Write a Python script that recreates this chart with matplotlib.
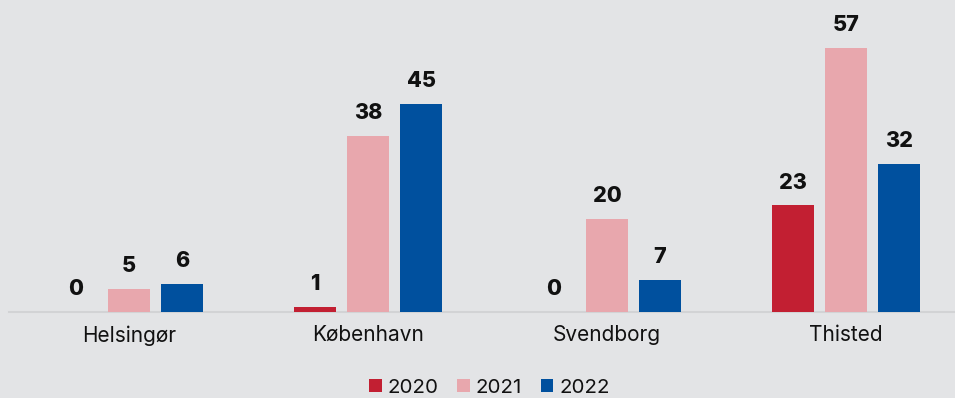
import numpy as np
import matplotlib
matplotlib.use("Agg")
import matplotlib.pyplot as plt

# Counts per town and year
towns = ["Helsingør", "København", "Svendborg", "Thisted"]
years = ["2020", "2021", "2022"]
values_2020 = [0, 1, 0, 23]
values_2021 = [5, 38, 20, 57]
values_2022 = [6, 45, 7, 32]

colors = ["#c21f32", "#e8a7ad", "#00509e"]
bg = "#e3e4e6"
text_color = "#111111"

plt.rcParams["font.family"] = ["Inter", "DejaVu Sans"]

W, H = 955, 398
fig = plt.figure(figsize=(W / 100, H / 100), dpi=100, facecolor=bg)

# axes geometry in pixels
left_px, base_px = 9.5, 312
ax = fig.add_axes([left_px / W, (H - base_px) / H, (W - left_px) / W, base_px / H])
ax.set_facecolor(bg)

step = 239.0
x = np.arange(len(towns))
bar_w = 42 / step
offset = 53 / step

series = [values_2020, values_2021, values_2022]
for i, (vals, col, yr) in enumerate(zip(series, colors, years)):
    pos = x + (i - 1) * offset
    bars = ax.bar(pos, vals, width=bar_w, color=col, label=yr, zorder=3)
    for b, v in zip(bars, vals):
        ax.annotate(str(v), (b.get_x() + b.get_width() / 2, v),
                    xytext=(0, 12.2), textcoords="offset points",
                    ha="center", va="baseline", fontsize=15.5,
                    fontweight="heavy", color=text_color)

px_per_unit = 264 / 57
ax.set_ylim(0, base_px / px_per_unit)
ax.set_xlim(-0.5, (W - left_px) / step - 0.5)

for s in ["top", "right", "left"]:
    ax.spines[s].set_visible(False)
ax.spines["bottom"].set_color("#d2d3d5")
ax.spines["bottom"].set_linewidth(1.5)
ax.spines["bottom"].set_zorder(2)

ax.set_yticks([])
ax.set_xticks(x)
ax.set_xticklabels(towns, fontsize=15, color=text_color)
ax.tick_params(axis="x", length=0, pad=9.5)

fig.legend(loc="center", bbox_to_anchor=(489.5 / W, 1 - 388 / H), ncol=3,
           frameon=False, fontsize=14.8, handlelength=0.62, handleheight=0.62,
           handletextpad=0.28, columnspacing=0.9, labelcolor=text_color)

fig.savefig("out.png", dpi=100, facecolor=bg)
